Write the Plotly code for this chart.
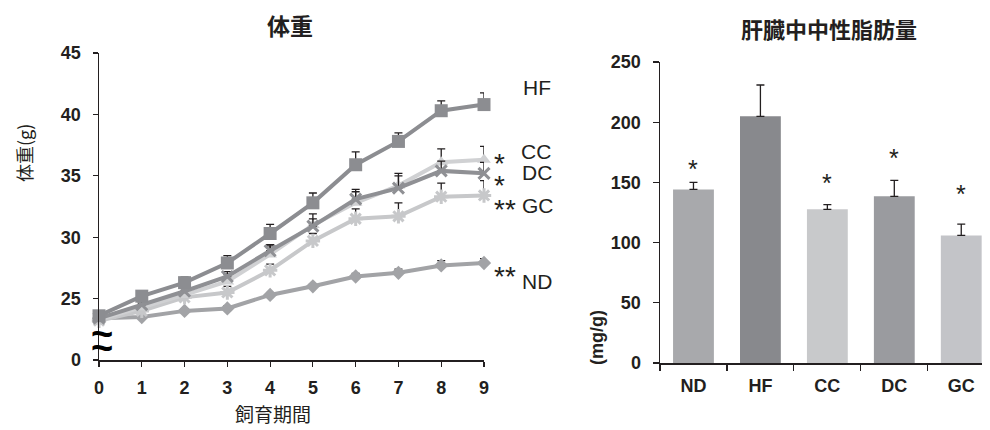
import plotly.graph_objects as go

# ---------------- data ----------------
weeks = [0, 1, 2, 3, 4, 5, 6, 7, 8, 9]
groups = ["ND", "HF", "CC", "DC", "GC"]

bw_ND = [23.4, 23.5, 24.0, 24.2, 25.3, 26.0, 26.8, 27.1, 27.7, 27.9]
bw_HF = [23.6, 25.2, 26.3, 27.9, 30.3, 32.8, 35.9, 37.8, 40.3, 40.8]
bw_CC = [23.3, 24.3, 25.3, 26.4, 28.6, 31.0, 32.8, 34.2, 36.1, 36.3]
bw_DC = [23.4, 24.5, 25.6, 26.8, 28.9, 30.9, 33.1, 34.0, 35.4, 35.2]
bw_GC = [23.2, 24.0, 25.1, 25.5, 27.3, 29.7, 31.5, 31.7, 33.3, 33.4]

err_ND = [0.1, 0.1, 0.15, 0.2, 0.15, 0.15, 0.25, 0.3, 0.4, 0.35]
err_HF = [0.2, 0.3, 0.45, 0.6, 0.75, 0.8, 1.05, 0.7, 0.8, 0.95]
err_CC = [0.2, 0.3, 0.3, 0.6, 0.7, 0.9, 0.9, 1.0, 1.1, 1.1]
err_DC = [0.2, 0.3, 0.3, 0.4, 0.5, 0.6, 0.8, 1.0, 0.8, 0.9]
err_GC = [0.2, 0.3, 0.3, 0.5, 0.5, 0.6, 0.8, 1.1, 1.1, 1.2]

y_ticks = [20, 25, 30, 35, 40, 45]
y_ticktext = ["0", "25", "30", "35", "40", "45"]

# label positions (x in weeks, y in g)
label_x = [9.86, 9.82, 9.84, 9.84, 9.84]
label_y = [42.2, 36.95, 35.25, 32.6, 26.4]
label_txt = ["HF", "CC", "DC", "GC", "ND"]
star_x = [9.36, 9.37, 9.49, 9.49]
star_y = [36.55, 34.8, 32.85, 27.35]
star_txt = ["*", "*", "**", "**"]

liver_tg = [144.2, 204.9, 127.6, 138.4, 106.0]
liver_err = [5.9, 26.0, 3.9, 13.3, 9.4]
liver_sig = ["*", "", "*", "*", "*"]
liver_sig_y = [166, None, 154.5, 175, 145.6]

# ---------------- styles ----------------
FONT = "Liberation Sans, Arial, Noto Sans CJK JP, sans-serif"
CJK = "Noto Sans CJK JP, Liberation Sans, sans-serif"
INK = "#231f20"
W, H = 990, 430

# left panel geometry (pixels)
L_X0, L_X1, L_Y0, L_Y1 = 99, 484, 360, 53
X_RANGE, Y_RANGE = [0, 9], [20, 45]


def left_to_paper(x, y):
    px = L_X0 + (x - X_RANGE[0]) / (X_RANGE[1] - X_RANGE[0]) * (L_X1 - L_X0)
    py = L_Y0 + (y - Y_RANGE[0]) / (Y_RANGE[1] - Y_RANGE[0]) * (L_Y1 - L_Y0)
    return px / W, 1 - py / H


line_style = {
    "ND": dict(color="#a2a3a6", symbol="diamond", size=11),
    "GC": dict(color="#c7c8ca", symbol="asterisk-open", size=12),
    "CC": dict(color="#d0d1d3", symbol="triangle-up", size=12),
    "DC": dict(color="#8f9094", symbol="x-thin-open", size=11),
    "HF": dict(color="#8c8d91", symbol="square", size=13),
}
bar_colors = ["#a8a9ac", "#88898d", "#c8c9cb", "#9a9b9f", "#c3c4c8"]

series = [("ND", bw_ND, err_ND), ("GC", bw_GC, err_GC), ("CC", bw_CC, err_CC),
          ("DC", bw_DC, err_DC), ("HF", bw_HF, err_HF)]

fig = go.Figure()

for name, vals, errs in series:
    st = line_style[name]
    marker = dict(color=st["color"], symbol=st["symbol"], size=st["size"])
    if "open" in st["symbol"]:
        marker["line"] = dict(color=st["color"], width=3)
    fig.add_trace(go.Scatter(
        x=weeks, y=vals, mode="lines+markers", name=name,
        line=dict(color=st["color"], width=4),
        marker=marker,
        error_y=dict(type="data", symmetric=False, array=errs,
                     arrayminus=[0] * len(errs), color=INK, thickness=1.3, width=4),
        cliponaxis=False, xaxis="x", yaxis="y", showlegend=False, hoverinfo="skip",
    ))

fig.add_trace(go.Bar(
    x=groups, y=liver_tg, marker=dict(color=bar_colors, line=dict(width=0)),
    width=0.61,
    error_y=dict(type="data", symmetric=False, array=liver_err,
                 arrayminus=[0] * len(liver_err), color=INK, thickness=1.3, width=4),
    xaxis="x2", yaxis="y2", showlegend=False, hoverinfo="skip",
))

annotations = []
for x, y, t in zip(label_x, label_y, label_txt):
    px, py = left_to_paper(x, y)
    annotations.append(dict(x=px, y=py, xref="paper", yref="paper", text=t, showarrow=False,
                            xanchor="left", yanchor="middle",
                            font=dict(family=FONT, size=21, color=INK)))
for x, y, t in zip(star_x, star_y, star_txt):
    px, py = left_to_paper(x, y)
    annotations.append(dict(x=px, y=py, xref="paper", yref="paper", text=t, showarrow=False,
                            xanchor="center", yanchor="middle", yshift=-7,
                            font=dict(family=FONT, size=28, color=INK)))
for g, s, sy in zip(groups, liver_sig, liver_sig_y):
    if s:
        annotations.append(dict(x=g, y=sy, xref="x2", yref="y2", text=s, showarrow=False,
                                xanchor="center", yanchor="middle", yshift=-6,
                                font=dict(family=FONT, size=25, color=INK)))
# axis break mark
for yb in [22.1, 21.0]:
    px, py = left_to_paper(0, yb)
    annotations.append(dict(x=px, y=py, xref="paper", yref="paper", text="<b>~</b>",
                            showarrow=False, xanchor="center", yanchor="middle", xshift=3,
                            font=dict(family=FONT, size=38, color="#000")))
# titles
titles = [
    dict(x=290, y=25, text="<b>体重</b>", font=dict(family=CJK, size=23, color=INK)),
    dict(x=829, y=28, text="<b>肝臓中中性脂肪量</b>", font=dict(family=CJK, size=22, color=INK)),
    dict(x=273, y=413, text="飼育期間", font=dict(family=CJK, size=19, color=INK)),
    dict(x=24, y=153, text="体重(g)", textangle=-90, font=dict(family=CJK, size=18, color=INK)),
    dict(x=597, y=338, text="<b>(mg/g)</b>", textangle=-90, font=dict(family=FONT, size=18, color=INK)),
]
for a in titles:
    a.update(x=a["x"] / W, y=1 - a["y"] / H, xref="paper", yref="paper",
             xanchor="center", yanchor="middle", showarrow=False)
    annotations.append(a)

axis_common = dict(showgrid=False, zeroline=False, showline=True, linecolor=INK, linewidth=1.5,
                   ticks="outside", tickcolor=INK, tickwidth=1.2, automargin=False)

fig.update_layout(
    width=W, height=H, margin=dict(l=0, r=0, t=0, b=0, autoexpand=False),
    paper_bgcolor="white", plot_bgcolor="white", hovermode=False,
    annotations=annotations,
    xaxis=dict(axis_common, domain=[L_X0 / W, L_X1 / W], range=X_RANGE, tickvals=weeks,
               ticklen=5, ticklabelstandoff=6, anchor="y",
               tickfont=dict(family=FONT, size=18, color=INK, weight="bold")),
    yaxis=dict(axis_common, domain=[1 - L_Y0 / H, 1 - L_Y1 / H], range=Y_RANGE,
               tickvals=y_ticks, ticktext=y_ticktext, ticklen=5, ticklabelstandoff=8, anchor="x",
               tickfont=dict(family=FONT, size=18, color=INK, weight="bold")),
    xaxis2=dict(axis_common, domain=[660 / W, 982 / W], range=[-0.5, 4.31], type="category",
                categoryorder="array", categoryarray=groups, tickson="boundaries",
                ticklen=6, ticklabelstandoff=6, anchor="y2",
                tickfont=dict(family=FONT, size=18, color=INK, weight="bold")),
    yaxis2=dict(axis_common, domain=[1 - 363 / H, 1 - 62 / H], range=[0, 250],
                tickvals=[0, 50, 100, 150, 200, 250], ticklen=6, ticklabelstandoff=8, anchor="x2",
                tickfont=dict(family=FONT, size=18, color=INK, weight="bold")),
)

fig.write_html("out.html", config={"displayModeBar": False, "staticPlot": True},
               post_script="document.body.style.margin='0';document.body.style.overflow='hidden';")
